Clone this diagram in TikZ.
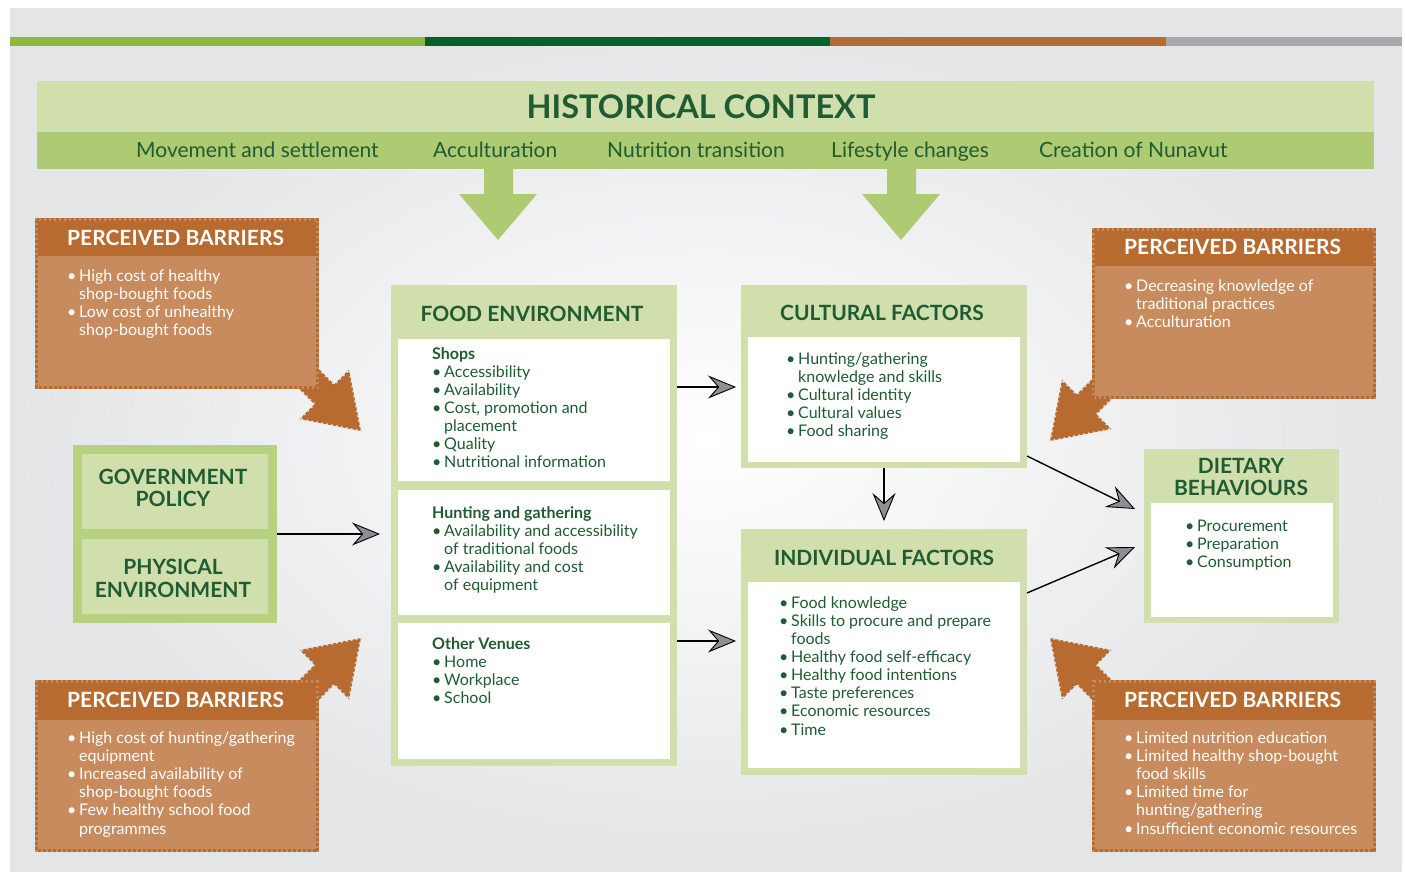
\documentclass[tikz,border=0pt]{standalone}
\usepackage{fontspec}
\setmainfont{Lato}
\usetikzlibrary{arrows.meta,fit}
\definecolor{bgout}{HTML}{E4E5E7}
\definecolor{lg}{HTML}{D1DFAC}
\definecolor{mg}{HTML}{AECA72}
\definecolor{gv}{HTML}{B6D17F}
\definecolor{dg}{HTML}{1F5C33}
\definecolor{barlg}{HTML}{8DB93F}
\definecolor{bardg}{HTML}{006329}
\definecolor{orh}{HTML}{B86B30}
\definecolor{orb}{HTML}{C88B5E}
\definecolor{bargray}{HTML}{A7A9AC}
\definecolor{tipgray}{HTML}{8E8F92}
\tikzset{
 box/.style={inner sep=0pt, outer sep=0pt, draw=none},
 itemtxt/.style={anchor=base west, inner sep=0pt, text=dg, font=\fontsize{16bp}{18bp}\selectfont},
 bartxt/.style={itemtxt, text=white},
 hdr/.style={anchor=base, inner sep=0pt, text=dg, font=\bfseries\fontsize{21bp}{22bp}\selectfont},
 bhdr/.style={anchor=base west, inner sep=0pt, text=white, font=\bfseries\fontsize{21bp}{22bp}\selectfont},
 subtxt/.style={anchor=base west, inner sep=0pt, text=dg, font=\fontsize{21bp}{22bp}\selectfont},
 conn/.style={line width=1.4bp, draw=black, -{Stealth[length=28bp,width=23bp,inset=10bp,fill=tipgray,line width=0.9bp]}},
 perf/.style={draw=orh, line width=3bp, dash pattern=on 3bp off 2bp},
 arrperf/.style={fill=orh, draw=bgout, line width=2bp, dash pattern=on 1.5bp off 3.5bp},
}
\newcommand\bu{\makebox[12bp][l]{\textbullet}}
\newcommand\ct{\hspace*{12bp}}
\newcommand\lst[1]{\parbox[t]{400bp}{\raggedright #1}}
\newcommand\ctr[1]{\parbox[t]{300bp}{\centering #1}}
\newcommand\pbarrow[1]{\begin{scope}[#1]
 \path[arrperf] (-7.8,-27.6) -- (15.2,-4.6) -- (30.05,-19.45) -- (42,42) -- (-19.45,30.05) -- (-4.6,15.2) -- (-27.6,-7.8) -- cycle;
\end{scope}}
\newcommand\pbbox[6]{%
 \node[box, fill=orb, fit={(#2,#3) (#4,#5)}] (#1) {};
 \fill[orh] (#2+3,#3+3) rectangle (#4-3,#6);
 \draw[perf] (#2+1.5,#3+1.5) rectangle (#4-1.5,#5-1.5);
}
\begin{document}
\begin{tikzpicture}[x=1bp,y=-1bp]
\useasboundingbox (0,0) rectangle (1405,871);
\fill[white] (0,0) rectangle (1405,871);
\shade[inner color=white, outer color=bgout] (10,8) rectangle (1402,871);
% colour bar
\fill[barlg] (10,37) rectangle (425,45.5);
\fill[bardg] (425,37) rectangle (830,45.5);
\fill[orh] (830,37) rectangle (1166,45.5);
\fill[bargray] (1166,37) rectangle (1402,45.5);
% historical context
\node[box, fill=lg, fit={(37,81) (1374,132)}] (hc) {};
\node[box, fill=mg, fit={(37,132) (1374,169)}] (hcb) {};
\node[anchor=base, inner sep=0pt, text=dg, font=\bfseries\fontsize{32.5bp}{34bp}\selectfont] (hct) at (701,118) {HISTORICAL CONTEXT};
\node[subtxt] (h1) at (136,157.5) {Movement and settlement};
\node[subtxt] (h2) at (433,157.5) {Acculturation};
\node[subtxt] (h3) at (607,157.5) {Nutrition transition};
\node[subtxt] (h4) at (831,157.5) {Lifestyle changes};
\node[subtxt] (h5) at (1039,157.5) {Creation of Nunavut};
\fill[mg] (484,168) -- (513,168) -- (513,194) -- (537,194) -- (498,240) -- (459,194) -- (484,194) -- cycle;
\fill[mg] (887,168) -- (916,168) -- (916,194) -- (940,194) -- (901,240) -- (862,194) -- (887,194) -- cycle;
% food environment
\node[box, fill=lg, fit={(391,285) (677,766)}] (fe) {};
\node[box, fill=white, fit={(398,339) (670,481)}] (fe1) {};
\node[box, fill=white, fit={(398,490) (670,615)}] (fe2) {};
\node[box, fill=white, fit={(398,623) (670,759)}] (fe3) {};
\node[hdr] (fet) at (532,321) {FOOD ENVIRONMENT};
\node[itemtxt] (fel1) at (432,359.5) {\lst{\textbf{Shops}\\ \bu Accessibility\\ \bu Availability\\ \bu Cost, promotion and\\ \ct placement\\ \bu Quality\\ \bu Nutritional information}};
\node[itemtxt] (fel2) at (432,518) {\lst{\textbf{Hunting and gathering}\\ \bu Availability and accessibility\\ \ct of traditional foods\\ \bu Availability and cost\\ \ct of equipment}};
\node[itemtxt] (fel3) at (432,649) {\lst{\textbf{Other Venues}\\ \bu Home\\ \bu Workplace\\ \bu School}};
% cultural factors
\node[box, fill=lg, fit={(741,285) (1027,468)}] (cf) {};
\node[box, fill=white, fit={(748,337) (1020,462)}] (cfw) {};
\node[hdr] (cft) at (882,320) {CULTURAL FACTORS};
\node[itemtxt] (cfl) at (786,364.5) {\lst{\bu Hunting/gathering\\ \ct knowledge and skills\\ \bu Cultural identity\\ \bu Cultural values\\ \bu Food sharing}};
% individual factors
\node[box, fill=lg, fit={(741,529) (1027,775)}] (if) {};
\node[box, fill=white, fit={(748,582) (1020,768)}] (ifw) {};
\node[hdr] (ift) at (884,565) {INDIVIDUAL FACTORS};
\node[itemtxt, font=\fontsize{16bp}{18.15bp}\selectfont] (ifl) at (779,608) {\lst{\bu Food knowledge\\ \bu Skills to procure and prepare\\ \ct foods\\ \bu Healthy food self-efficacy\\ \bu Healthy food intentions\\ \bu Taste preferences\\ \bu Economic resources\\ \bu Time}};
% dietary behaviours
\node[box, fill=lg, fit={(1144,449) (1339,623)}] (db) {};
\node[box, fill=white, fit={(1151,503) (1333,617)}] (dbw) {};
\node[hdr] (dbt) at (1241,473) {\ctr{DIETARY\\BEHAVIOURS}};
\node[itemtxt] (dbl) at (1185,531) {\lst{\bu Procurement\\ \bu Preparation\\ \bu Consumption}};
% government policy / physical environment
\node[box, fill=gv, fit={(73,445) (277,623)}] (gov) {};
\node[box, fill=lg, fit={(82,454) (268,529)}] (gp) {};
\node[box, fill=lg, fit={(82,539) (268,614)}] (pe) {};
\node[hdr] (gpt) at (173,484) {\ctr{GOVERNMENT\\POLICY}};
\node[hdr, font=\bfseries\fontsize{21bp}{23bp}\selectfont] (pet) at (173,574) {\ctr{PHYSICAL\\ENVIRONMENT}};
% perceived barriers
\pbarrow{shift={(319,389)}}
\pbarrow{shift={(1092,399)}, xscale=-1}
\pbarrow{shift={(319,680)}, yscale=-1}
\pbarrow{shift={(1092,680)}, xscale=-1, yscale=-1}
\pbbox{pb1}{35}{218}{319}{389}{256}
\pbbox{pb2}{1092}{228}{1376}{399}{266}
\pbbox{pb3}{35}{680}{319}{852}{720}
\pbbox{pb4}{1092}{680}{1376}{852}{720}
\node[bhdr] (pb1t) at (67,245) {PERCEIVED BARRIERS};
\node[bhdr] (pb2t) at (1124,254) {PERCEIVED BARRIERS};
\node[bhdr] (pb3t) at (67,707) {PERCEIVED BARRIERS};
\node[bhdr] (pb4t) at (1124,707) {PERCEIVED BARRIERS};
\node[bartxt] (pb1l) at (67,281.5) {\lst{\bu High cost of healthy\\ \ct shop-bought foods\\ \bu Low cost of unhealthy\\ \ct shop-bought foods}};
\node[bartxt] (pb2l) at (1124,291) {\lst{\bu Decreasing knowledge of\\ \ct traditional practices\\ \bu Acculturation}};
\node[bartxt, font=\fontsize{16bp}{18.2bp}\selectfont] (pb3l) at (67,743) {\lst{\bu High cost of hunting/gathering\\ \ct equipment\\ \bu Increased availability of\\ \ct shop-bought foods\\ \bu Few healthy school food\\ \ct programmes}};
\node[bartxt, font=\fontsize{16bp}{18.2bp}\selectfont] (pb4l) at (1124,743) {\lst{\bu Limited nutrition education\\ \bu Limited healthy shop-bought\\ \ct food skills\\ \bu Limited time for\\ \ct hunting/gathering\\ \bu Insufficient economic resources}};
% connectors
\draw[conn, shorten >=5bp] (fe.east |- 0,387) -- (cf.west |- 0,387);
\draw[conn, shorten >=5bp] (fe.east |- 0,641) -- (if.west |- 0,641);
\draw[conn, shorten >=11bp] (gov.east) -- (fe.west |- gov.east);
\draw[conn, shorten >=8bp] (cf.south) -- (if.north);
\draw[conn] ([yshift=12bp]cf.south east) -- ([xshift=-9bp,yshift=27bp]db.west);
\draw[conn] ([yshift=-64bp]if.north east) -- ([xshift=-9bp,yshift=-11bp]db.west);
\end{tikzpicture}
\end{document}
